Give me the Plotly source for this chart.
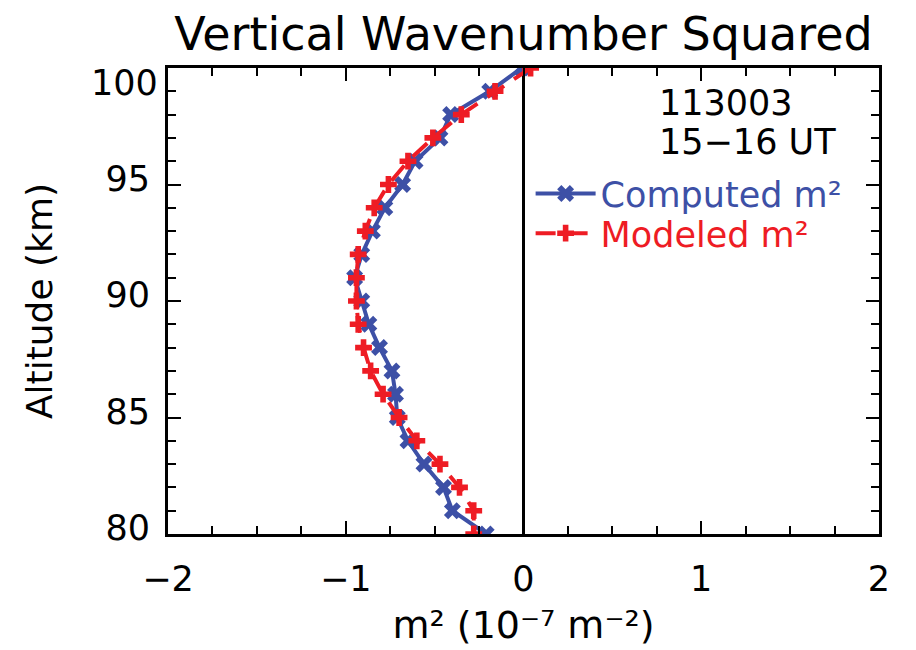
import plotly.graph_objects as go

# altitude grid (km) and the two m^2 profiles (10^-7 m^-2)
altitude = [100, 99, 98, 97, 96, 95, 94, 93, 92, 91, 90,
            89, 88, 87, 86, 85, 84, 83, 82, 81, 80]
computed_m2 = [-0.01, -0.19, -0.41, -0.47, -0.61, -0.68, -0.78, -0.85, -0.91, -0.95, -0.91,
               -0.87, -0.81, -0.74, -0.72, -0.71, -0.65, -0.56, -0.45, -0.40, -0.21]
modeled_m2 = [0.04, -0.16, -0.35, -0.51, -0.65, -0.76, -0.84, -0.89, -0.93, -0.94, -0.94,
              -0.93, -0.90, -0.86, -0.79, -0.70, -0.60, -0.47, -0.36, -0.28, -0.28]

x_ticks = [-2, -1, 0, 1, 2]
y_ticks = [80, 85, 90, 95, 100]
info_lines = ["113003", "15\u221216 UT"]

BLUE = '#3d50a6'
RED = '#ee1c24'
FONT = 'DejaVu Sans'


def main():
    fig = go.Figure()
    # computed profile: solid with x markers
    fig.add_trace(
        go.Scatter(
            x=computed_m2,
            y=altitude,
            mode='lines+markers',
            line=dict(color=BLUE, width=4),
            marker=dict(symbol='x', size=15, color=BLUE),
            name="<span style='color:%s'>Computed m\u00b2</span>" % BLUE,
            legend='legend',
        )
    )
    # modeled profile: dashed with + markers
    fig.add_trace(
        go.Scatter(
            x=modeled_m2,
            y=altitude,
            mode='lines+markers',
            line=dict(color=RED, width=4, dash='20px,12px'),
            marker=dict(symbol='cross', size=14, color=RED),
            name="<span style='color:%s'>Modeled m\u00b2</span>" % RED,
            legend='legend2',
        )
    )

    ypos = [0.925, 0.841]
    for txt, yy in zip(info_lines, ypos):
        fig.add_annotation(
            text=txt, xref='paper', yref='paper', x=0.688, y=yy,
            xanchor='left', yanchor='middle', showarrow=False,
            font=dict(family=FONT, size=35, color='black'),
        )

    # the top altitude label sits below its tick in the original
    fig.add_annotation(
        text=str(y_ticks[-1]), xref='paper', yref='y', x=0, y=y_ticks[-1],
        xanchor='right', yanchor='middle', xshift=-8, yshift=-15, showarrow=False,
        font=dict(family=FONT, size=35, color='black'),
    )

    axis_common = dict(
        showline=True,
        linecolor='black',
        linewidth=3,
        mirror='allticks',
        ticks='inside',
        ticklen=13,
        tickwidth=2,
        tickcolor='black',
        showgrid=False,
        automargin=False,
        tickfont=dict(family=FONT, size=35, color='black'),
    )

    leg = dict(
        xanchor='left', yanchor='middle',
        bgcolor='rgba(0,0,0,0)',
        font=dict(family=FONT, size=35),
        itemwidth=60,
    )

    # page body adds an 8px offset, margins are chosen to compensate
    fig.update_layout(
        width=916,
        height=650,
        margin=dict(l=160, r=45, t=60, b=124),
        plot_bgcolor='white',
        paper_bgcolor='white',
        font=dict(family=FONT, color='black'),
        title=dict(
            text='Vertical Wavenumber Squared',
            x=0.5, xref='paper', y=1 - 26 / 650, yanchor='middle',
            font=dict(family=FONT, size=46, color='black'),
        ),
        xaxis=dict(
            range=[-2, 2],
            tickvals=x_ticks,
            ticktext=['\u22122', '\u22121', '0', '1', '2'],
            zeroline=True,
            zerolinecolor='black',
            zerolinewidth=3,
            minor=dict(dtick=0.25, ticks='inside', ticklen=8, tickwidth=2, tickcolor='black'),
            ticklabelstandoff=12,
            title=dict(
                text='m\u00b2 (10\u207b\u2077 m\u207b\u00b2)',
                font=dict(family=FONT, size=38, color='black'),
                standoff=14,
            ),
            **axis_common,
        ),
        yaxis=dict(
            range=[80, 100],
            tickvals=y_ticks,
            ticktext=[str(v) for v in y_ticks[:-1]] + [''],
            zeroline=False,
            minor=dict(dtick=1, ticks='inside', ticklen=8, tickwidth=2, tickcolor='black'),
            ticklabelstandoff=8,
            ticklabelshift=-6,
            title=dict(
                text='Altitude (km)',
                font=dict(family=FONT, size=36, color='black'),
                standoff=42,
            ),
            **axis_common,
        ),
        showlegend=True,
        legend=dict(x=0.51, y=0.73, **leg),
        legend2=dict(x=0.51, y=0.645, **leg),
    )

    fig.write_html("out.html")


if __name__ == '__main__':
    main()
